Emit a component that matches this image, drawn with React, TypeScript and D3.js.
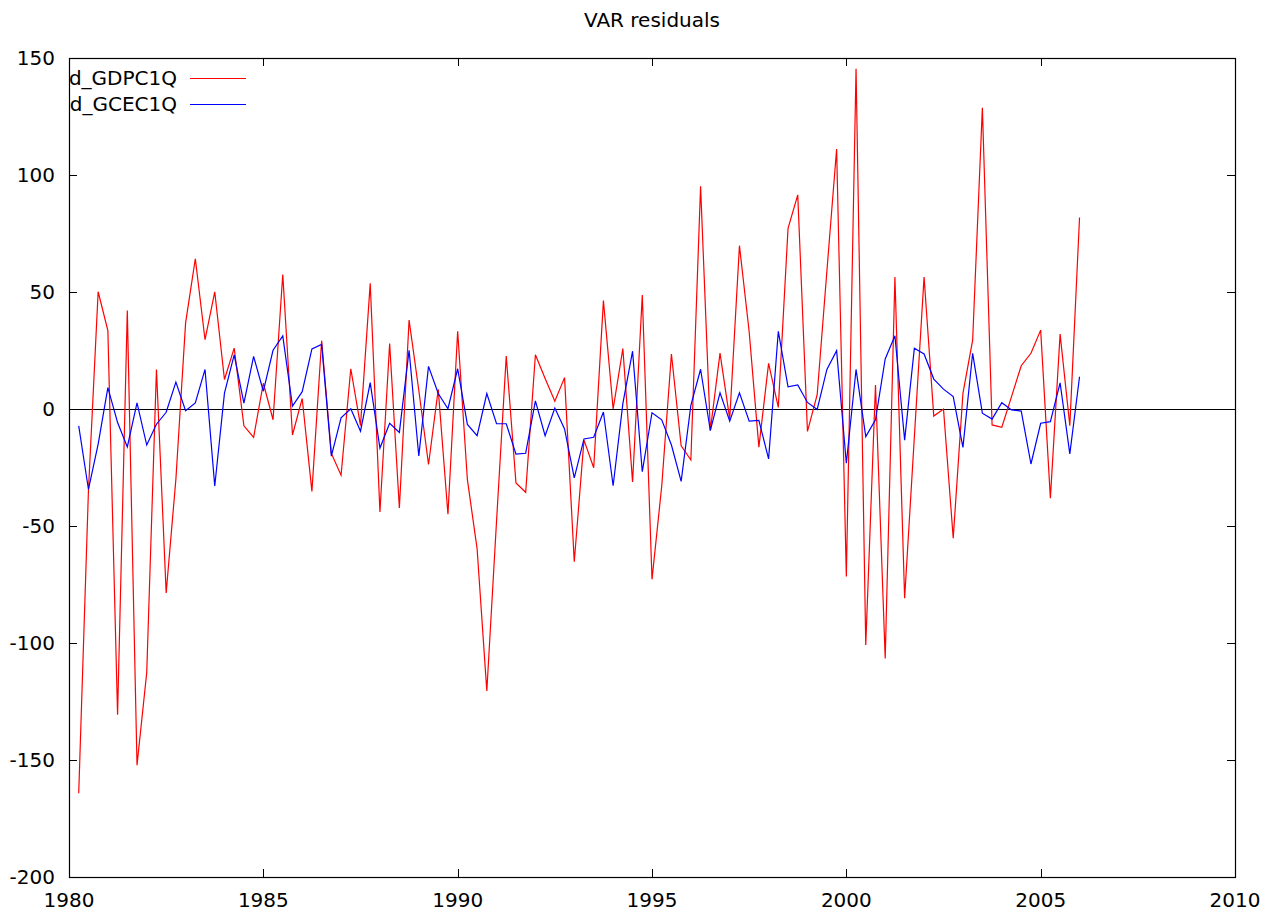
import React, { useEffect, useRef } from 'react';
import * as d3 from 'd3';

// quarterly residuals, 1980:2 .. 2006:1
const startYear = 1980.25;

const gdpResid: number[] = [
  -164.2, -35, 50.1, 33.5, -130.7, 42.1, -152.2, -112.6, 16.9, -78.6,
  -30, 36.8, 64.2, 29.6, 50.1, 12.6, 26, -7.2, -12.1, 11,
  -4.6, 57.5, -11.1, 4.5, -35.2, 29.2, -19, -28.3, 17.2, -7.1,
  53.7, -44, 28, -42.3, 38, 8, -23.7, 8.4, -45, 33.2,
  -30.2, -59.7, -120.5, -48, 22.6, -31.6, -35.6, 23.2, 13, 3.3,
  13.4, -65.3, -13.3, -25.1, 46.3, 0, 25.8, -31.2, 48.7, -72.8,
  -33, 23.5, -15.7, -21.8, 95.2, -9.2, 23.9, -4.2, 69.8, 33,
  -16.3, 19.5, 0.7, 77.2, 91.5, -9.6, 6.1, 59, 111.1, -71.6,
  145.4, -100.8, 10.3, -106.6, 56.4, -80.9, -12, 56.4, -3, 0,
  -55.2, 6.7, 29.4, 128.7, -6.8, -7.8, 5.3, 18.5, 23.8, 33.7,
  -38.1, 32, -7.1, 81.8,
];

const gceResid: number[] = [
  -7.2, -34.3, -15, 9.1, -5.8, -16.2, 2.6, -15.4, -6.5, -1.4,
  11.5, -0.7, 2.6, 16.9, -32.9, 6.8, 23.1, 2.5, 22.5, 7.6,
  25.1, 31.2, 1.2, 7.4, 25.7, 27.6, -20.1, -3.8, 0.1, -9.5,
  11.3, -16.7, -6.1, -10, 25.1, -20.1, 18.2, 6.6, 0.1, 17.2,
  -6.6, -11.4, 6.6, -6.3, -6.3, -19.3, -18.9, 3.5, -11.4, 0.4,
  -8.5, -29.4, -12.8, -12.1, -1.3, -32.8, 2.3, 24.7, -26.8, -1.6,
  -4.6, -15.4, -30.9, 1.6, 17, -9.2, 6.9, -5.2, 6.9, -5.2,
  -4.9, -21.3, 33.2, 9.5, 10.3, 2.8, -0.2, 16.9, 24.9, -23.2,
  16.9, -11.8, -4.6, 21.4, 31.3, -13.3, 26, 23.5, 12.8, 8.5,
  5.3, -16.4, 23.8, -1.8, -4.3, 2.7, -0.4, -0.9, -23.5, -6.1,
  -5.4, 11.2, -19.2, 13.8,
];

const xTicks = [1980, 1985, 1990, 1995, 2000, 2005, 2010];
const yTicks = [-200, -150, -100, -50, 0, 50, 100, 150];

const seriesNames = ['d_GDPC1Q', 'd_GCEC1Q'];
const seriesColors = ['#ff0000', '#0000ff'];

const W = 1276;
const H = 913;

const App: React.FC = () => {
  const svgRef = useRef<SVGSVGElement>(null);

  useEffect(() => {
    if (!svgRef.current) return;
    const svg = d3.select(svgRef.current);
    svg.selectAll('*').remove();

    const left = 69;
    const right = 1235;
    const top = 58;
    const bottom = 877;
    const font = 'DejaVu Sans, Verdana, sans-serif';
    const fs = '20px';

    const x = d3.scaleLinear().domain([1980, 2010]).range([left, right]);
    const y = d3.scaleLinear().domain([-200, 150]).range([bottom, top]);

    svg.append('rect').attr('width', W).attr('height', H).attr('fill', '#fff');

    // title, centred over the plot area
    svg
      .append('text')
      .attr('x', (left + right) / 2)
      .attr('y', 27)
      .attr('text-anchor', 'middle')
      .style('font-family', font)
      .style('font-size', fs)
      .text('VAR residuals');

    // ticks (inside, mirrored)
    const tickLen = 8;
    const ticks = svg.append('g').attr('stroke', '#000').attr('stroke-width', 1);
    xTicks.forEach((t) => {
      const px = Math.round(x(t)) + 0.5;
      ticks.append('line').attr('x1', px).attr('x2', px).attr('y1', bottom).attr('y2', bottom - tickLen);
      ticks.append('line').attr('x1', px).attr('x2', px).attr('y1', top).attr('y2', top + tickLen);
    });
    yTicks.forEach((t) => {
      const py = Math.round(y(t)) + 0.5;
      ticks.append('line').attr('x1', left).attr('x2', left + tickLen).attr('y1', py).attr('y2', py);
      ticks.append('line').attr('x1', right).attr('x2', right - tickLen).attr('y1', py).attr('y2', py);
    });

    // tick labels
    svg
      .append('g')
      .selectAll('text')
      .data(xTicks)
      .enter()
      .append('text')
      .attr('x', (d) => x(d))
      .attr('y', 907)
      .attr('text-anchor', 'middle')
      .style('font-family', font)
      .style('font-size', fs)
      .text((d) => String(d));

    svg
      .append('g')
      .selectAll('text')
      .data(yTicks)
      .enter()
      .append('text')
      .attr('x', 55)
      .attr('y', (d) => y(d))
      .attr('dy', '0.35em')
      .attr('text-anchor', 'end')
      .style('font-family', font)
      .style('font-size', fs)
      .text((d) => String(d));

    // zero line
    svg
      .append('line')
      .attr('x1', left)
      .attr('x2', right)
      .attr('y1', Math.round(y(0)) + 0.5)
      .attr('y2', Math.round(y(0)) + 0.5)
      .attr('stroke', '#000')
      .attr('stroke-width', 1.2);

    // series
    const line = d3
      .line<number>()
      .x((_d, i) => x(startYear + i * 0.25))
      .y((d) => y(d));

    [gdpResid, gceResid].forEach((s, k) => {
      svg
        .append('path')
        .datum(s)
        .attr('d', line)
        .attr('fill', 'none')
        .attr('stroke', seriesColors[k])
        .attr('stroke-width', 1.2)
        .attr('stroke-linejoin', 'miter');
    });

    // legend
    seriesNames.forEach((name, k) => {
      const ly = 78 + k * 26;
      svg
        .append('text')
        .attr('x', 177)
        .attr('y', ly)
        .attr('dy', '0.35em')
        .attr('text-anchor', 'end')
        .style('font-family', font)
        .style('font-size', fs)
        .text(name);
      svg
        .append('line')
        .attr('x1', 190)
        .attr('x2', 246)
        .attr('y1', ly + 0.5)
        .attr('y2', ly + 0.5)
        .attr('stroke', seriesColors[k])
        .attr('stroke-width', 1.2);
    });

    // border
    svg
      .append('rect')
      .attr('x', left + 0.5)
      .attr('y', top + 0.5)
      .attr('width', right - left)
      .attr('height', bottom - top)
      .attr('fill', 'none')
      .attr('stroke', '#000')
      .attr('stroke-width', 1.2);
  }, []);

  return (
    <svg
      ref={svgRef}
      width={W}
      height={H}
      style={{ position: 'absolute', left: 0, top: 0, display: 'block' }}
    />
  );
};

export default App;
